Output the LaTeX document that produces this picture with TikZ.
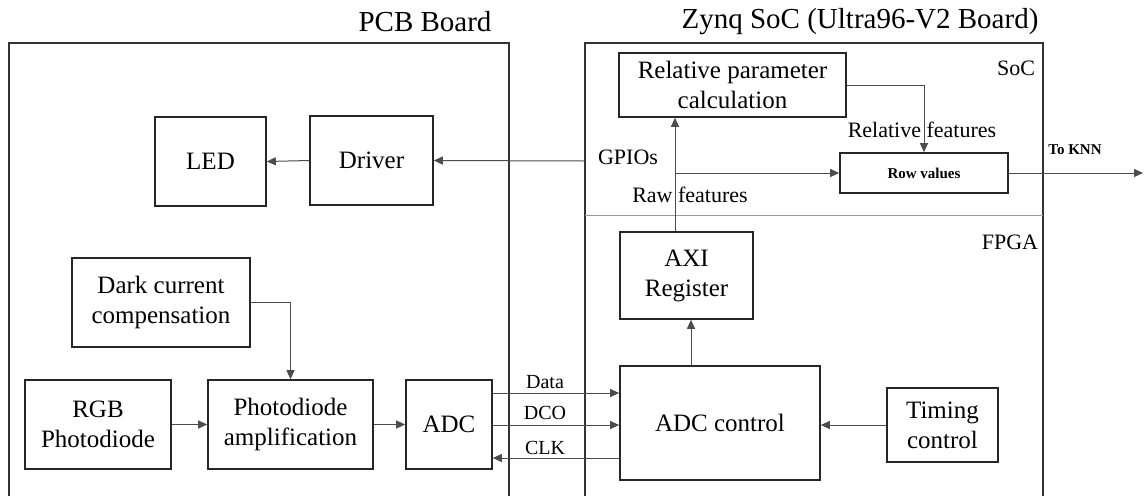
\documentclass[tikz,border=0pt]{standalone}
\usepackage{fontspec}
\setmainfont{Liberation Serif}
\usetikzlibrary{arrows.meta}
\begin{document}
\begin{tikzpicture}[x=1pt,y=-1pt,
  blk/.style={draw=black!85,line width=1.6pt,inner sep=0pt,align=center,
    font=\fontsize{25}{30}\selectfont},
  conn/.style={draw=black!70,line width=1pt},
  arr/.style={conn,-{Triangle[length=9pt,width=8pt]}},
  lbl/.style={inner sep=0pt,font=\fontsize{22}{26}\selectfont},
  sig/.style={inner sep=0pt,font=\fontsize{20}{24}\selectfont},
  ttl/.style={inner sep=0pt,font=\fontsize{29}{34}\selectfont},
  bold/.style={inner sep=0pt,font=\fontsize{15}{18}\selectfont\bfseries},
  board/.style={draw=black!80,line width=1.6pt}]
\useasboundingbox (0,0) rectangle (1145,496);

% board outlines
\draw[board] (9,496) -- (9,43) -- (509,43) -- (509,496);
\draw[board] (585,496) -- (585,43) -- (1043,43) -- (1043,496);
\draw[draw=black!40,line width=0.8pt] (585,215) -- (1043,215);
\node[ttl] (pcbT) at (425,22) {PCB Board};
\node[ttl] (zynqT) at (860,22) {Zynq SoC (Ultra96-V2 Board)};
\node[lbl] (socL) at (1016,68) {SoC};
\node[lbl] (fpgaL) at (1010,242) {FPGA};

% PCB blocks
\node[blk,minimum width=111pt,minimum height=89pt] (led) at (210.5,161.5) {LED};
\node[blk,minimum width=123pt,minimum height=89pt] (drv) at (371.5,160.5) {Driver};
\node[blk,minimum width=178pt,minimum height=89pt] (dark) at (161,302.5) {Dark current\\compensation};
\node[blk,minimum width=146pt,minimum height=89pt] (rgb) at (98,424.5) {RGB\\Photodiode};
\node[blk,minimum width=165pt,minimum height=89pt] (amp) at (290.5,424.5) {Photodiode\\amplification};
\node[blk,minimum width=86pt,minimum height=89pt] (adc) at (449,424.5) {ADC};

% Zynq blocks
\node[blk,minimum width=227pt,minimum height=64pt] (rel) at (732.5,85) {Relative parameter\\calculation};
\node[draw=black!85,line width=1.6pt,inner sep=0pt,minimum width=168pt,minimum height=40pt,
  font=\fontsize{15}{18}\selectfont\bfseries] (row) at (924,173) {Row values};
\node[blk,minimum width=133pt,minimum height=87pt] (axi) at (686.5,275.5) {AXI\\Register};
\node[blk,minimum width=200pt,minimum height=114pt] (ctl) at (720,423) {ADC control};
\node[blk,minimum width=111pt,minimum height=74pt] (tim) at (942.5,425) {Timing\\control};

% helper coordinates
\coordinate (gpio) at (585,161);
\coordinate (yData) at (0,393);
\coordinate (yDco) at (0,425);
\coordinate (yClk) at (0,458);
\coordinate (xUp) at (691,0);
\coordinate (xRaw) at (675,0);
\coordinate (split) at (675,173);
\coordinate (knn) at (1143,173);

% PCB connectors
\draw[arr] (gpio) -- (drv.east);
\draw[arr] (drv.west) -- (led.east);
\draw[arr] (dark.east) -| (amp.north);
\draw[arr] (rgb.east) -- (amp.west);
\draw[arr] (amp.east) -- (adc.west);

% ADC interface
\draw[arr] (adc.east |- yData) -- (ctl.west |- yData);
\draw[arr] (adc.east |- yDco) -- (ctl.west |- yDco);
\draw[arr] (ctl.west |- yClk) -- (adc.east |- yClk);
\node[sig] (dataL) at (545,382) {Data};
\node[sig] (dcoL) at (545,413) {DCO};
\node[sig] (clkL) at (545,448) {CLK};

% FPGA / SoC connectors
\draw[arr] (tim.west) -- (ctl.east |- tim.west);
\draw[arr] (ctl.north -| xUp) -- (axi.south -| xUp);
\draw[arr] (axi.north -| xRaw) -- (rel.south -| xRaw);
\draw[arr] (split) -- (row.west);
\draw[arr] (rel.east) -| (row.north);
\draw[arr] (row.east) -- (knn);

% signal labels
\node[lbl] (gpioL) at (628,157) {GPIOs};
\node[lbl] (rawL) at (690,195) {Raw features};
\node[lbl] (relL) at (922,130) {Relative features};
\node[bold] (knnL) at (1075,150) {To KNN};
\end{tikzpicture}
\end{document}
